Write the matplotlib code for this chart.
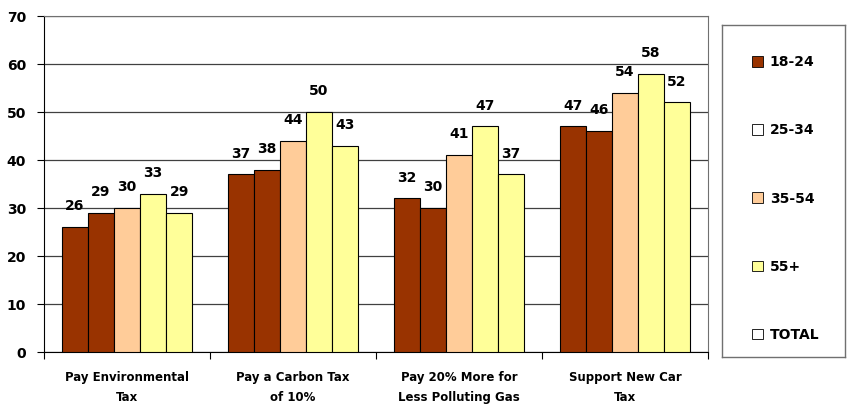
import matplotlib.pyplot as plt
import numpy as np
from matplotlib.patches import Patch

categories = ['Pay Environmental\nTax', 'Pay a Carbon Tax\nof 10%',
              'Pay 20% More for\nLess Polluting Gas', 'Support New Car\nTax']
series_names = ['18-24', '25-34', '35-54', '55+', 'TOTAL']
age_18_24 = [26, 37, 32, 47]
age_25_34 = [29, 38, 30, 46]
age_35_54 = [30, 44, 41, 54]
age_55_plus = [33, 50, 47, 58]
total = [29, 43, 37, 52]

bar_colors = ['#993300', '#993300', '#FFCC99', '#FFFF99', '#FFFF99']
legend_colors = ['#993300', '#FFFFFF', '#FFCC99', '#FFFF99', '#FFFFFF']

series = [age_18_24, age_25_34, age_35_54, age_55_plus, total]

fig = plt.figure(figsize=(8.49, 4.09), dpi=100)
ax = fig.add_axes([44 / 849, 1 - 352 / 409, 664 / 849, 336 / 409])

x = np.arange(len(categories))
w = 0.157
for i, vals in enumerate(series):
    pos = x + (i - 2) * w
    ax.bar(pos, vals, width=w, color=bar_colors[i], edgecolor='black', linewidth=0.8, zorder=3)
    for p, v in zip(pos, vals):
        ax.annotate(str(v), (p, v), xytext=(0, 10), textcoords='offset points',
                    ha='center', va='bottom', fontsize=10, fontweight='bold', zorder=4)

ax.set_xlim(-0.5, len(categories) - 0.5)
ax.set_ylim(0, 70)
ax.set_yticks(range(0, 71, 10))
ax.yaxis.grid(True, color='#404040', linewidth=0.9, zorder=0)
ax.set_axisbelow(True)

ax.set_xticks(np.arange(-0.5, len(categories), 1.0))
ax.set_xticklabels([])
ax.set_xticks(x, minor=True)
ax.set_xticklabels(categories, minor=True, fontsize=8.5, fontweight='bold', linespacing=1.65)
ax.tick_params(axis='x', which='minor', length=0, pad=14)
ax.tick_params(axis='x', which='major', length=5, direction='out')
ax.tick_params(axis='y', length=5, direction='out', labelsize=10, pad=8)
for lbl in ax.get_yticklabels():
    lbl.set_fontweight('bold')

for s in ['top', 'right']:
    ax.spines[s].set_color('#707070')
for s in ['left', 'bottom']:
    ax.spines[s].set_color('black')

# legend panel
lax = fig.add_axes([722 / 849, 1 - 357 / 409, 123 / 849, 332 / 409])
lax.set_xticks([])
lax.set_yticks([])
for s in lax.spines.values():
    s.set_color('#707070')
    s.set_linewidth(1.0)
handles = [Patch(facecolor=c, edgecolor='black', linewidth=0.6) for c in legend_colors]
lax.legend(handles, series_names, loc='center left', bbox_to_anchor=(0.14, 0.477),
           frameon=False, handlelength=0.8, handleheight=0.8, handletextpad=0.5,
           labelspacing=3.9, prop={'size': 10, 'weight': 'bold'})

fig.savefig('out.png', dpi=100)
